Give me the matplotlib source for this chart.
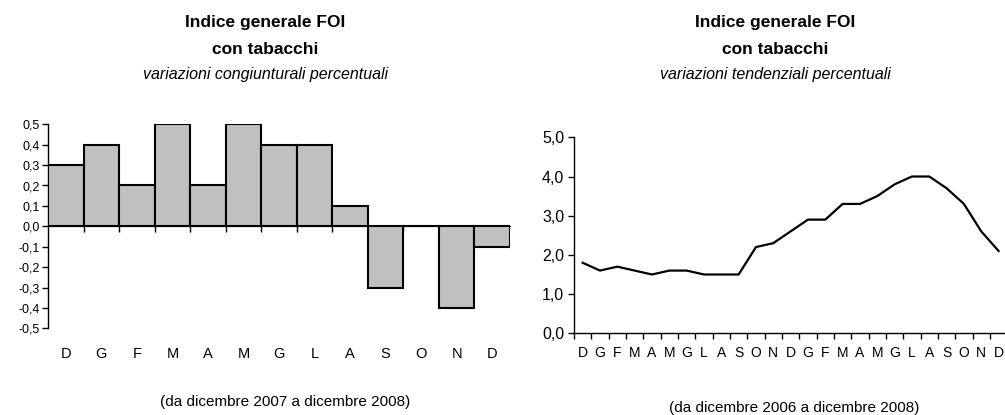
import matplotlib.pyplot as plt
from matplotlib.ticker import FixedLocator, FuncFormatter

plt.rcParams['font.family'] = ['Liberation Sans', 'DejaVu Sans']

# variazioni congiunturali (dic 2007 - dic 2008)
mesi_cong = ['D', 'G', 'F', 'M', 'A', 'M', 'G', 'L', 'A', 'S', 'O', 'N', 'D']
var_cong = [0.3, 0.4, 0.2, 0.5, 0.2, 0.5, 0.4, 0.4, 0.1, -0.3, 0.0, -0.4, -0.1]

# variazioni tendenziali (dic 2006 - dic 2008)
mesi_tend = ['D', 'G', 'F', 'M', 'A', 'M', 'G', 'L', 'A', 'S', 'O', 'N',
             'D', 'G', 'F', 'M', 'A', 'M', 'G', 'L', 'A', 'S', 'O', 'N', 'D']
var_tend = [1.8, 1.6, 1.7, 1.6, 1.5, 1.6, 1.6, 1.5, 1.5, 1.5, 2.2, 2.3,
            2.6, 2.9, 2.9, 3.3, 3.3, 3.5, 3.8, 4.0, 4.0, 3.7, 3.3, 2.6, 2.1]

W, H = 1005, 415
fig = plt.figure(figsize=(W / 100, H / 100), dpi=100)

title_font = ['Liberation Sans Narrow', 'Liberation Sans', 'DejaVu Sans']


def titles(xc, sub):
    fig.text(xc / W, 1 - 23 / H, 'Indice generale FOI', ha='center', va='center',
             fontsize=12.5, fontweight='bold', family=title_font)
    fig.text(xc / W, 1 - 49 / H, 'con tabacchi', ha='center', va='center',
             fontsize=12.5, fontweight='bold', family=title_font)
    fig.text(xc / W, 1 - 75 / H, sub, ha='center', va='center',
             fontsize=11.5, style='italic', family=title_font)


comma = FuncFormatter(lambda v, p: f'{v:.1f}'.replace('.', ','))

'''
Grafico a barre: variazioni congiunturali
'''
ax1 = fig.add_axes([48 / W, (H - 328.3) / H, 462 / W, 204 / H])
x1 = list(range(len(var_cong)))
ax1.bar(x1, var_cong, width=1.0, color='#c0c0c0', edgecolor='black',
        linewidth=1.5, zorder=3)
ax1.set_xlim(-0.5, len(var_cong) - 0.5)
ax1.set_ylim(-0.5, 0.5)
ax1.set_yticks([i / 10 for i in range(-5, 6)])
ax1.yaxis.set_major_formatter(comma)
ax1.spines['top'].set_visible(False)
ax1.spines['right'].set_visible(False)
ax1.spines['left'].set_linewidth(1.0)
ax1.spines['bottom'].set_position(('data', 0))
ax1.spines['bottom'].set_linewidth(0.8)
ax1.spines['bottom'].set_zorder(2)
ax1.set_xticks(x1)
ax1.set_xticklabels(mesi_cong)
ax1.xaxis.set_minor_locator(FixedLocator([i + 0.5 for i in range(len(var_cong) - 1)]))
ax1.tick_params(axis='x', which='major', length=0, pad=87, labelsize=10.5)
ax1.tick_params(axis='x', which='minor', length=4, width=1.0, direction='out')
ax1.tick_params(axis='y', length=4, width=1.0, direction='out', labelsize=9, pad=2)
fig.text(285 / W, 1 - 402 / H, '(da dicembre 2007 a dicembre 2008)', ha='center',
         va='center', fontsize=11)
titles(265, 'variazioni congiunturali percentuali')

'''
Grafico a linea: variazioni tendenziali
'''
ax2 = fig.add_axes([574 / W, (H - 333.3) / H, 431 / W, 196 / H])
x2 = list(range(len(var_tend)))
ax2.plot(x2, var_tend, color='black', linewidth=1.6)
ax2.set_xlim(-0.5, 24.37)
ax2.set_ylim(0, 5)
ax2.set_yticks([0, 1, 2, 3, 4, 5])
ax2.yaxis.set_major_formatter(comma)
ax2.spines['top'].set_visible(False)
ax2.spines['right'].set_visible(False)
ax2.spines['left'].set_linewidth(1.0)
ax2.spines['bottom'].set_linewidth(1.0)
ax2.set_xticks(x2)
ax2.set_xticklabels(mesi_tend)
ax2.xaxis.set_minor_locator(FixedLocator([i - 0.5 for i in range(len(var_tend) + 1)]))
ax2.tick_params(axis='x', which='major', length=0, pad=9, labelsize=10)
ax2.tick_params(axis='x', which='minor', length=4, width=1.0, direction='out')
ax2.tick_params(axis='y', length=4, width=1.0, direction='out', labelsize=11.5, pad=3)
fig.text(794 / W, 1 - 408 / H, '(da dicembre 2006 a dicembre 2008)', ha='center',
         va='center', fontsize=11)
titles(775, 'variazioni tendenziali percentuali')

fig.savefig('out.png', dpi=100)
